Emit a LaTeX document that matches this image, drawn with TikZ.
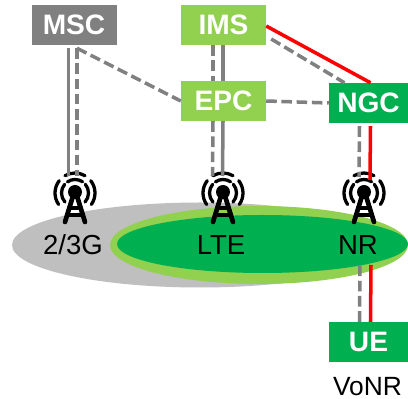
\documentclass[tikz,border=0pt]{standalone}
\usepackage{fontspec}
\usetikzlibrary{positioning}
\setmainfont{Liberation Sans}
\definecolor{netgray}{HTML}{808080}
\definecolor{cellgray}{HTML}{BFBFBF}
\definecolor{lightgrn}{HTML}{92D050}
\definecolor{darkgrn}{HTML}{00B050}
\newcommand{\px}{0.03cm}
\newcommand{\tower}[1]{
    \begin{scope}[shift={(#1)},black,line cap=round]
    \fill (0,-1) circle (7);
    \draw[line width=2.8pt] (13.5,0) arc (0:42:13.5) (-13.5,0) arc (180:138:13.5) (13.5,0) arc (0:-40:13.5) (-13.5,0) arc (180:220:13.5);
    \draw[line width=2.8pt] (-7.5,-11.2) arc (236:304:13.5);
    \draw[line width=2.8pt] (20,0) arc (0:35:20) (-20,0) arc (180:145:20) (20,0) arc (0:-38:20) (-20,0) arc (180:218:20) (-10,-17.3) arc (240:300:20);
    \draw[line width=4pt] (-2,3) -- (-10,29) (2,3) -- (10,29);
    \draw[line width=2.6pt] (-6,15) -- (6,15) (-8,22) -- (8,22);
    \end{scope}
}
\tikzset{
    box/.style={minimum width=85*\px,minimum height=40*\px,inner sep=0pt,text=white,font=\fontsize{24}{28}\selectfont\bfseries},
    nettext/.style={font=\fontsize{23.5}{28}\selectfont,inner sep=0pt,text=black},
    solidlink/.style={netgray,line width=3pt},
    dashlink/.style={netgray,line width=3pt,dash pattern=on 9pt off 4pt},
    redlink/.style={red,line width=3pt}
}
\begin{document}
\begin{tikzpicture}[x=0.03cm,y=-0.03cm]
\useasboundingbox (0,0) rectangle (408,399);

\begin{scope}
\clip (0,0) rectangle (408,399);
\fill[cellgray] (200,245) ellipse (188 and 42.5);
\fill[lightgrn] (259,245) ellipse (149 and 39);
\fill[darkgrn] (262.5,244) ellipse (145.5 and 29);
\end{scope}

\node[box,fill=netgray] (msc) at (74,25) {MSC};
\node[box,fill=lightgrn] (ims) at (223.5,25) {IMS};
\node[box,fill=lightgrn] (epc) at (223.5,101) {EPC};
\node[box,fill=darkgrn,minimum width=79*\px] (ngc) at (368.5,103) {NGC};
\node[box,fill=darkgrn,minimum width=79*\px] (ue) at (368.5,342) {UE};

\foreach \x/\name in {75/gsm, 223/lte, 364/nr} {
    \coordinate (\name) at (\x,193);
    \tower{\name}
}

\node[nettext] (gsmtext) at (73,245) {2/3G};
\node[nettext] (ltetext) at (221,245) {LTE};
\node[nettext] (nrtext) at (358,245) {NR};
\node[nettext,font=\fontsize{22.5}{27}\selectfont,below=15*\px of ue,xshift=-1*\px] (vonr) {VoNR};

\draw[solidlink] ([xshift=-5.5*\px,yshift=-3*\px]msc.south) -- ([xshift=-6.5*\px,yshift=17*\px]gsm);
\draw[dashlink] ([xshift=3*\px,yshift=-3*\px]msc.south) -- ([xshift=2*\px,yshift=17*\px]gsm);
\draw[dashlink] ([xshift=3*\px,yshift=-3*\px]msc.south) -- (epc.west);

\draw[solidlink] ([xshift=-0.5*\px]ims.south) -- ([xshift=-0.5*\px]epc.north);
\draw[dashlink] ([xshift=-10.5*\px]ims.south) -- ([xshift=-10.5*\px]epc.north);
\draw[solidlink] ([xshift=-0.5*\px]epc.south) -- ([xshift=-0.5*\px,yshift=17*\px]lte);
\draw[dashlink] ([xshift=-10.5*\px]epc.south) -- ([xshift=-10.5*\px,yshift=17*\px]lte);

\draw[redlink] ([yshift=-1*\px]ims.east) -- ([xshift=2*\px]ngc.north);
\draw[dashlink] ([xshift=5*\px,yshift=-14*\px]ims.east) -- ([xshift=-24*\px]ngc.north);
\draw[dashlink] (epc.east) -- (ngc.west);

\draw[redlink] ([xshift=2*\px,yshift=-3*\px]ngc.south) -- ([xshift=6*\px,yshift=13*\px]nr);
\draw[dashlink] ([xshift=-9*\px,yshift=-3*\px]ngc.south) -- ([xshift=-5*\px,yshift=16*\px]nr);
\draw[redlink] ([xshift=2*\px]ue.north) -- ([xshift=7*\px,yshift=-72*\px]nr);
\draw[dashlink] ([xshift=-9*\px]ue.north) -- ([xshift=-4*\px,yshift=-72*\px]nr);
\end{tikzpicture}
\end{document}
